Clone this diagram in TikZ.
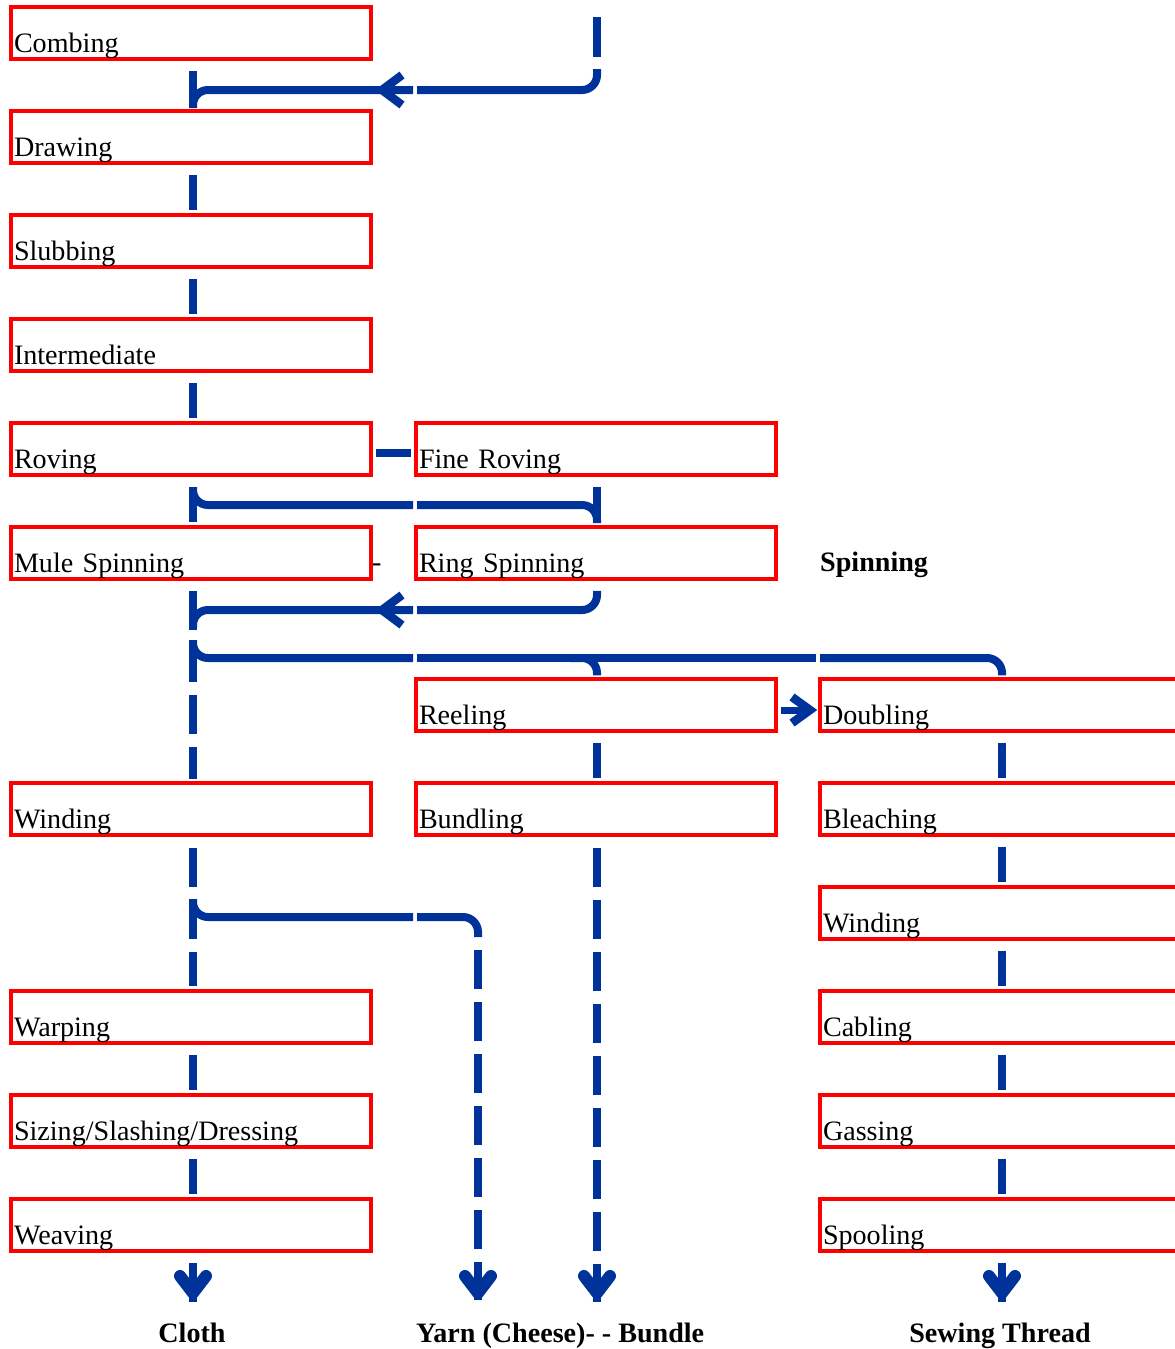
\documentclass[tikz,border=0pt]{standalone}
\usepackage{fontspec}
\setmainfont{Liberation Serif}
\usetikzlibrary{calc}
\definecolor{flowblue}{RGB}{0,51,153}
\newcommand\vlnk[3]{\draw[conn] ($(#1.south -| #3)+(0,10)$) -- ($(#2.north -| #3)+(0,-3)$);}
\begin{document}
\begin{tikzpicture}[x=1pt,y=-1pt,
  box/.style={draw=red, line width=3.5pt, minimum width=360pt, minimum height=52pt, inner sep=0pt,
    text width=354pt, align=left, text height=40pt, text depth=2pt, font=\fontsize{28.1}{33}\selectfont},
  conn/.style={draw=flowblue, line width=8.5pt},
  rc/.style={conn, line width=8pt, rounded corners=15pt},
  dsh/.style={conn, dash pattern=on 39pt off 13pt},
  chev/.style={draw=flowblue, line width=8.5pt, line join=miter},
  dchev/.style={draw=flowblue, line width=12pt, line join=round, line cap=round},
  lbl/.style={font=\fontsize{28.1}{33}\selectfont\bfseries, inner sep=0pt},
  txt/.style={font=\fontsize{28.1}{33}\selectfont, inner sep=0pt},
  lefthead/.pic={\draw[chev] (20,-15) -- (0,0) -- (20,15);},
  righthead/.pic={\draw[chev] (-18,-13) -- (0,0) -- (-18,13);},
  downhead/.pic={\draw[dchev] (-13,-17) -- (0,0) -- (13,-17);}]
\useasboundingbox (0,0) rectangle (1175,1349);
\clip (0,0) rectangle (1175,1349);
\coordinate (L) at (193,0);
\coordinate (M) at (597,0);
\coordinate (Y) at (478,0);
\coordinate (R) at (1002,0);
% boxes
\node[box] (combing) at (191,33) {Combing};
\node[box] (drawing) at (191,137) {Drawing};
\node[box] (slubbing) at (191,241) {Slubbing};
\node[box] (intermediate) at (191,345) {Intermediate};
\node[box] (roving) at (191,449) {Roving};
\node[box] (mule) at (191,553) {Mule Spinning};
\node[box] (windingL) at (191,809) {Winding};
\node[box] (warping) at (191,1017) {Warping};
\node[box] (sizing) at (191,1121) {Sizing/Slashing/Dressing};
\node[box] (weaving) at (191,1225) {Weaving};
\node[box] (fine) at (596,449) {Fine Roving};
\node[box] (ring) at (596,553) {Ring Spinning};
\node[box] (reeling) at (596,705) {Reeling};
\node[box] (bundling) at (596,809) {Bundling};
\node[box] (doubling) at (1000,705) {Doubling};
\node[box] (bleaching) at (1000,809) {Bleaching};
\node[box] (windingR) at (1000,913) {Winding};
\node[box] (cabling) at (1000,1017) {Cabling};
\node[box] (gassing) at (1000,1121) {Gassing};
\node[box] (spooling) at (1000,1225) {Spooling};
% labels
\node[txt, anchor=base west] (hyph) at (372,571) {-};
\node[lbl, anchor=base west] (spinning) at (820,571) {Spinning};
\node[lbl, anchor=base] (cloth) at (192,1342) {Cloth};
\node[lbl, anchor=base west] (yarn) at (416,1342) {Yarn (Cheese)- - Bundle};
\node[lbl, anchor=base] (sewing) at (1000,1342) {Sewing Thread};
% left spine
\vlnk{combing}{drawing}{L}
\vlnk{drawing}{slubbing}{L}
\vlnk{slubbing}{intermediate}{L}
\vlnk{intermediate}{roving}{L}
\vlnk{roving}{mule}{L}
\draw[dsh] ($(mule.south -| L)+(0,10)$) -- ($(windingL.north -| L)+(0,-2)$);
\draw[dsh] ($(windingL.south -| L)+(0,11)$) -- ($(warping.north -| L)+(0,-3)$);
\vlnk{warping}{sizing}{L}
\vlnk{sizing}{weaving}{L}
\draw[conn] ($(weaving.south -| L)+(0,10)$) -- ++(0,39);
\pic at (193,1293) {downhead};
% feed from above into the spine
\coordinate (feed) at (597,17);
\draw[conn] (feed) -- ++(0,40);
\draw[rc] (597,69) -- (597,90) -- (417,90);
\draw[rc] (413,90) -- (193,90) -- (193,108);
\pic at (382,90) {lefthead};
% roving -- fine roving
\draw[conn] ($(roving.east)+(3,4)$) -- ($(fine.west)+(-3,4)$);
% roving row to ring spinning
\draw[rc] (193,487) -- (193,505) -- (413,505);
\draw[rc] (417,505) -- (597,505) -- (597,523);
\draw[conn] ($(fine.south -| M)+(0,10)$) -- ($(ring.north -| M)+(0,-2)$);
% ring spinning back to the spine
\draw[rc] ($(ring.south -| M)+(0,10)$) -- (597,610) -- (417,610);
\draw[rc] (413,610) -- (193,610) -- (193,628);
\pic at (382,610) {lefthead};
% spine to reeling and doubling
\draw[rc] (193,640) -- (193,658) -- (413,658);
\draw[rc] (417,658) -- (816,658);
\draw[rc] (820,658) -- (1002,658) -- ($(doubling.north -| R)+(0,-2)$);
\draw[rc] (570,658) -- (597,658) -- ($(reeling.north -| M)+(0,-2)$);
% reeling -> doubling
\draw[conn, line width=7pt] ($(reeling.east)+(3,5)$) -- ($(doubling.west)+(-12,5)$);
\pic at (810,710) {righthead};
% middle column
\vlnk{reeling}{bundling}{M}
\draw[dsh] ($(bundling.south -| M)+(0,11)$) -- ++(0,454);
\pic at (597,1293) {downhead};
% yarn branch
\draw[rc] (193,899) -- (193,917) -- (413,917);
\draw[rc] (417,917) -- (478,917) -- (478,937);
\draw[dsh] (478,950) -- (478,1300);
\pic at (478,1293) {downhead};
% right column
\vlnk{doubling}{bleaching}{R}
\vlnk{bleaching}{windingR}{R}
\vlnk{windingR}{cabling}{R}
\vlnk{cabling}{gassing}{R}
\vlnk{gassing}{spooling}{R}
\draw[conn] ($(spooling.south -| R)+(0,10)$) -- ++(0,39);
\pic at (1002,1293) {downhead};
\end{tikzpicture}
\end{document}
